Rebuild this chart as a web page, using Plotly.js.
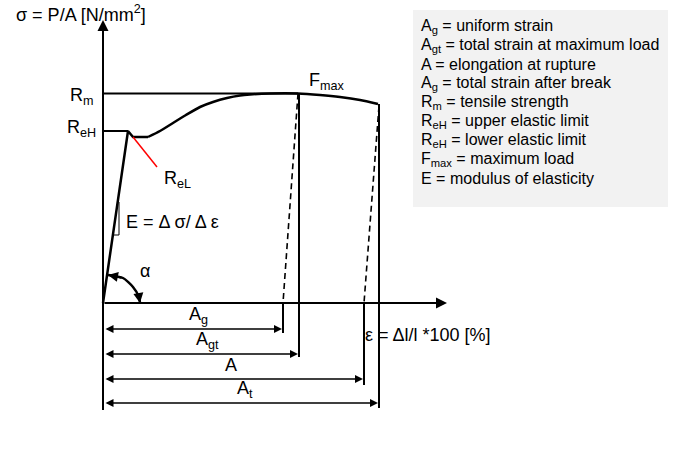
<!DOCTYPE html>
<html><head><meta charset="utf-8">
<script src="https://cdn.plot.ly/plotly-3.0.1.min.js"></script>
<style>html,body{margin:0;padding:0;background:#fff}#chart{width:699px;height:455px}</style>
</head><body><div id="chart"></div>
<script>
// Stress-strain curve (strain units, stress units; origin at axes crossing)
const elasticStrain = [0, 25, 30, 45];
const elasticStress = [0, 172, 166, 166];
const hardeningStrain = [45, 57, 70, 83, 97, 110, 124, 137, 147, 167, 195, 217, 237, 257, 275];
const hardeningStress = [166, 172, 180, 188, 196, 201, 205, 207.5, 208.5, 209.5, 209.5, 208, 206, 203, 199];
const Rm = 209.5, ReH = 172, ReHStrain = 25;
const fmaxStrain = 195, breakStrain = 275, breakStress = 199;
const agStrain = 180, aStrain = 261;
const relLineStrain = [30, 54];
const relLineStress = [166, 136];
const eTriStrain = [10, 16, 16];
const eTriStress = [68, 68, 101];
const alphaArcStrain = [5, 20, 30, 36, 37];
const alphaArcStress = [28, 25, 16, 6, 0];
const dimLabels = ['A<sub>g</sub>', 'A<sub>gt</sub>', 'A', 'A<sub>t</sub>'];
const dimEnds = [180, 196, 261, 276];
const dimLevels = [-26, -51, -76, -100];
const dimTicksBottom = [-30, -54, -82, -105];
const dimTicksTop = [0, 209.5, 0, 199];
const legendLines = [
  'A<sub>g</sub> = uniform strain',
  'A<sub>gt</sub> = total strain at maximum load',
  'A = elongation at rupture',
  'A<sub>g</sub> = total strain after break',
  'R<sub>m</sub> = tensile strength',
  'R<sub>eH</sub> = upper elastic limit',
  'R<sub>eH</sub> = lower elastic limit',
  'F<sub>max</sub> = maximum load',
  'E = modulus of elasticity'
];

const F = 'Liberation Sans, Arial, sans-serif';
const blk = '#000';
const traces = [];
function line(x, y, w, dash, color, shape) {
  traces.push({x: x, y: y, type: 'scatter', mode: 'lines', hoverinfo: 'skip',
    line: {color: color || blk, width: w, dash: dash || 'solid', shape: shape || 'linear', smoothing: 0.6}});
}
line(elasticStrain, elasticStress, 2.5);
line(hardeningStrain, hardeningStress, 2.5, 'solid', blk, 'spline');
line([0, fmaxStrain], [Rm, Rm], 2);
line([0, ReHStrain], [ReH, ReH], 2);
line(relLineStrain, relLineStress, 1.5, 'solid', '#ff0000');
line(eTriStrain, eTriStress, 1);
line(alphaArcStrain, alphaArcStress, 2.5, 'solid', blk, 'spline');
// dashed unloading lines
line([fmaxStrain, agStrain], [Rm, 0], 1.6, '6px,4px');
line([breakStrain + 1, aStrain], [breakStress - 2, 0], 1.6, '6px,4px');
// vertical extension lines
for (let i = 0; i < dimEnds.length; i++) {
  line([dimEnds[i], dimEnds[i]], [dimTicksTop[i], dimTicksBottom[i]], 2);
}
line([0, 0], [0, -107], 2);

const ann = [];
// axes arrows
ann.push({x: 0, y: 283, ax: 0, ay: -107, axref: 'x', ayref: 'y', xref: 'x', yref: 'y', text: '',
  showarrow: true, arrowhead: 2, arrowsize: 1.1, arrowwidth: 2, arrowcolor: blk, standoff: 0});
ann.push({x: 344, y: 0, ax: 0, ay: 0, axref: 'x', ayref: 'y', xref: 'x', yref: 'y', text: '',
  showarrow: true, arrowhead: 2, arrowsize: 1.1, arrowwidth: 2, arrowcolor: blk, standoff: 0});
// dimension arrows
const dimLabelX = [95, 104, 128, 142];
for (let i = 0; i < dimEnds.length; i++) {
  ann.push({x: dimEnds[i] - 1, y: dimLevels[i], ax: 1, ay: dimLevels[i], axref: 'x', ayref: 'y', xref: 'x', yref: 'y',
    text: '', showarrow: true, arrowhead: 2, arrowside: 'end+start', arrowsize: 1, arrowwidth: 1.6, arrowcolor: blk, standoff: 0, startstandoff: 0});
  ann.push({x: dimLabelX[i], y: dimLevels[i] + 14, xref: 'x', yref: 'y', text: dimLabels[i], showarrow: false,
    font: {family: F, size: 18, color: blk}, xanchor: 'center', yanchor: 'middle'});
}
// alpha arc arrowheads
ann.push({x: alphaArcStrain[0], y: alphaArcStress[0], ax: alphaArcStrain[1], ay: alphaArcStress[1], axref: 'x', ayref: 'y', xref: 'x', yref: 'y',
  text: '', showarrow: true, arrowhead: 2, arrowsize: 1, arrowwidth: 2, arrowcolor: blk, standoff: 0});
ann.push({x: alphaArcStrain[4], y: alphaArcStress[4], ax: alphaArcStrain[3], ay: alphaArcStress[3], axref: 'x', ayref: 'y', xref: 'x', yref: 'y',
  text: '', showarrow: true, arrowhead: 2, arrowsize: 1, arrowwidth: 2, arrowcolor: blk, standoff: 0});

function label(x, y, t, xa, size) {
  ann.push({x: x, y: y, xref: 'x', yref: 'y', text: t, showarrow: false, xanchor: xa || 'left', yanchor: 'middle',
    font: {family: F, size: size || 18, color: blk}});
}
label(-89, 290, 'σ = P/A [N/mm<sup>2</sup>]', 'left');
label(-7, 207, 'R<sub>m</sub>', 'right');
label(-5, 175, 'R<sub>eH</sub>', 'right');
label(59, 124, 'R<sub>eL</sub>', 'left');
label(21, 81, 'E = Δ σ/ Δ ε', 'left');
label(42, 32, 'α', 'center');
label(204, 222, 'F<sub>max</sub>', 'left');
label(260, -32, 'ε = Δl/l *100 [%]', 'left');

for (let i = 0; i < legendLines.length; i++) {
  ann.push({x: 316, y: 277 - i * 19.1, xref: 'x', yref: 'y', text: legendLines[i], showarrow: false,
    xanchor: 'left', yanchor: 'middle', font: {family: F, size: 16, color: blk}});
}

const layout = {
  width: 699, height: 455, margin: {l: 0, r: 0, t: 0, b: 0},
  paper_bgcolor: '#fff', plot_bgcolor: '#fff', showlegend: false,
  xaxis: {range: [-103, 596], visible: false, fixedrange: true},
  yaxis: {range: [-152, 303], visible: false, fixedrange: true},
  shapes: [{type: 'rect', xref: 'x', yref: 'y', x0: 310, x1: 565, y0: 96, y1: 293,
    fillcolor: '#f2f2f2', line: {width: 0}, layer: 'below'}],
  annotations: ann
};
Plotly.newPlot('chart', traces, layout, {displayModeBar: false, staticPlot: true});
</script></body></html>
